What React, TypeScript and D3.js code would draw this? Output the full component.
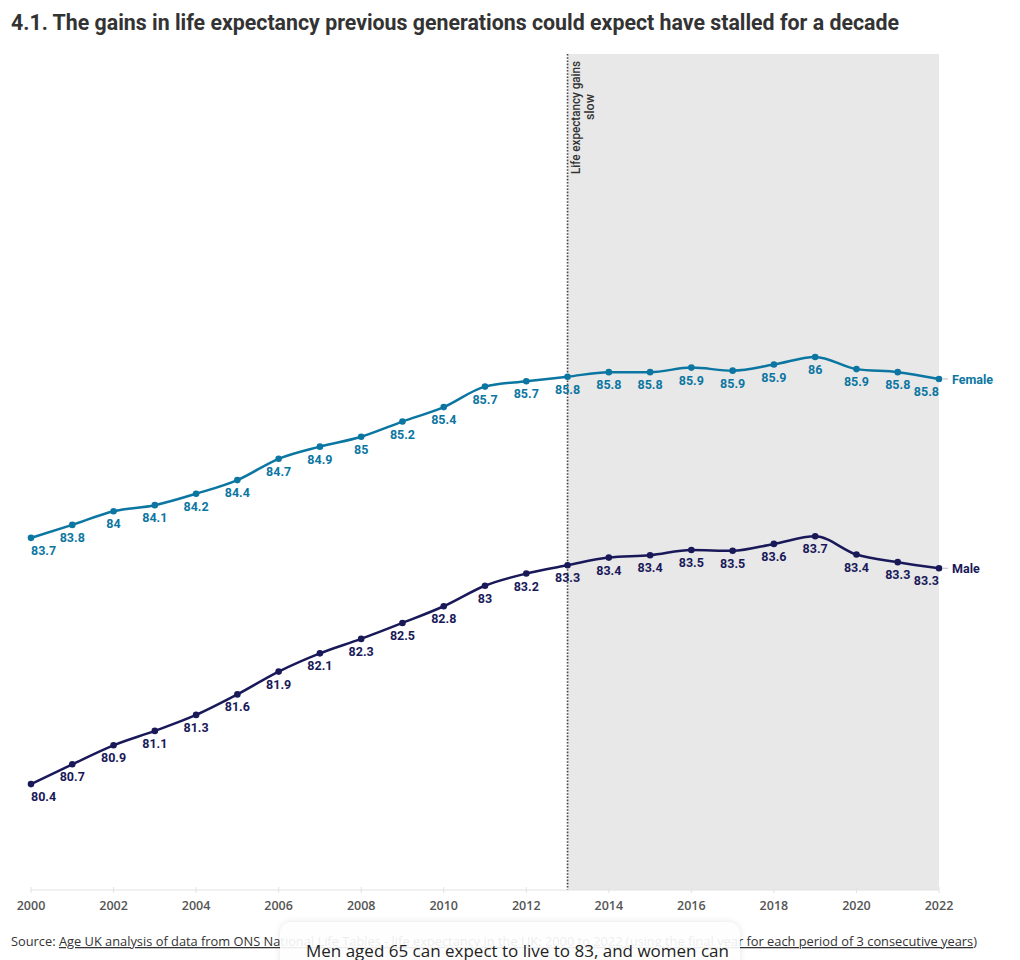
import React, { useEffect } from "react";
import * as d3 from "d3";

const years = [2000, 2001, 2002, 2003, 2004, 2005, 2006, 2007, 2008, 2009, 2010, 2011, 2012, 2013, 2014, 2015, 2016, 2017, 2018, 2019, 2020, 2021, 2022];
const female = [83.66, 83.83, 84.01, 84.09, 84.24, 84.42, 84.7, 84.86, 84.99, 85.19, 85.38, 85.65, 85.72, 85.78, 85.84, 85.84, 85.9, 85.86, 85.94, 86.04, 85.88, 85.84, 85.75];
const male = [80.42, 80.68, 80.93, 81.12, 81.33, 81.6, 81.9, 82.14, 82.33, 82.54, 82.76, 83.03, 83.19, 83.3, 83.4, 83.43, 83.5, 83.49, 83.58, 83.68, 83.44, 83.34, 83.26];
const seriesNames = ["Female", "Male"];
const tickYears = [2000, 2002, 2004, 2006, 2008, 2010, 2012, 2014, 2016, 2018, 2020, 2022];
const slowdownStart = 2013;
const yDomain = [79, 90];

const title = "4.1. The gains in life expectancy previous generations could expect have stalled for a decade";
const annotation = ["Life expectancy gains", "slow"];
const sourceLabel = "Source: ";
const sourceLink = "Age UK analysis of data from ONS National Life Tables - life expectancy in the UK: 2000 to 2022 (using the final year for each period of 3 consecutive years";
const cardText = "Men aged 65 can expect to live to 83, and women can";

const COLORS = ["#0b76a1", "#19195a"];
const W = 1020, H = 960;
const plotTop = 54, plotBottom = 890, plotLeft = 31, plotRight = 939;

export default function App() {
  useEffect(() => {
    document.body.style.margin = "0";
  }, []);

  const x = d3.scaleLinear().domain([years[0], years[years.length - 1]]).range([plotLeft, plotRight]);
  const y = d3.scaleLinear().domain(yDomain).range([892, 56]);
  const line = d3.line<number>().x((_, i) => x(years[i])).y((d) => y(d)).curve(d3.curveMonotoneX);
  const fmt = d3.format(".1~f");
  const data = [female, male];

  const labelFont = "Roboto, 'Open Sans', sans-serif";
  const condFont = "'DejaVu Sans Condensed', Roboto, sans-serif";

  return (
    <svg width={W} height={H} style={{ display: "block", fontFamily: "Roboto, sans-serif" }}>
      <defs>
        <filter id="shadow" x="-10%" y="-50%" width="120%" height="200%">
          <feDropShadow dx="0" dy="0" stdDeviation="3" floodColor="#000" floodOpacity="0.12" />
        </filter>
      </defs>
      <rect width={W} height={H} fill="#fff" />
      <text x={11} y={30} fontSize={22} fontWeight={700} fill="#333" fontFamily={labelFont} textLength={888} lengthAdjust="spacingAndGlyphs">{title}</text>

      {/* shaded slowdown */}
      <rect x={x(slowdownStart)} y={plotTop} width={x(years[years.length - 1]) - x(slowdownStart)} height={plotBottom - plotTop} fill="#e8e8e8" />
      <line x1={x(slowdownStart)} x2={x(slowdownStart)} y1={plotTop} y2={plotBottom} stroke="#444" strokeWidth={1.6} strokeDasharray="1.6,1.6" />
      <g transform={`translate(${x(slowdownStart)},61) rotate(-90)`} fontFamily={labelFont} fontSize={12.5} fontWeight={500} fill="#333">
        <text x={0} y={12.5} textAnchor="end" textLength={113} lengthAdjust="spacingAndGlyphs">{annotation[0]}</text>
        <text x={-33} y={26.5} textAnchor="end">{annotation[1]}</text>
      </g>

      {/* x axis */}
      <line x1={plotLeft} x2={plotRight} y1={plotBottom} y2={plotBottom} stroke="#e2e2e2" strokeWidth={1} />
      {tickYears.map((t) => (
        <g key={t}>
          <line x1={x(t)} x2={x(t)} y1={plotBottom - 3} y2={plotBottom + 3} stroke="#e2e2e2" />
          <text x={x(t)} y={910} textAnchor="middle" fontSize={12.5} fontWeight={600} fill="#555" fontFamily="'Open Sans', sans-serif">{t}</text>
        </g>
      ))}

      {data.map((vals, si) => (
        <g key={si}>
          <path d={line(vals) || ""} fill="none" stroke={COLORS[si]} strokeWidth={2.5} />
          {vals.map((v, i) => (
            <circle key={i} cx={x(years[i])} cy={y(v)} r={3.3} fill={COLORS[si]} />
          ))}
          {vals.map((v, i) => (
            <text key={"l" + i} x={x(years[i])} y={y(v) + 17} textAnchor={i === 0 ? "start" : i === vals.length - 1 ? "end" : "middle"} fontSize={12.5} fontWeight={700} fill={COLORS[si]} fontFamily={labelFont}>{fmt(v)}</text>
          ))}
          <line x1={x(years[years.length - 1]) + 4} x2={x(years[years.length - 1]) + 9} y1={y(vals[vals.length - 1])} y2={y(vals[vals.length - 1])} stroke="#bbb" strokeWidth={1} />
          <text x={x(years[years.length - 1]) + 13} y={y(vals[vals.length - 1]) + 4.5} fontSize={12.5} fontWeight={700} fill={COLORS[si]} fontFamily={labelFont}>{seriesNames[si]}</text>
        </g>
      ))}

      {/* source */}
      <text x={11} y={946} fontSize={12.5} fill="#333" fontFamily="'Open Sans', sans-serif" textLength={966} lengthAdjust="spacingAndGlyphs">
        <tspan>{sourceLabel}</tspan>
        <tspan textDecoration="underline">{sourceLink}</tspan>
        <tspan>)</tspan>
      </text>

      {/* overlay card */}
      <rect x={280} y={922} width={460} height={60} rx={12} fill="#fff" fillOpacity={0.9} filter="url(#shadow)" />
      <text x={306} y={957} fontSize={17} fill="#222" fontFamily="'Open Sans', sans-serif">{cardText}</text>
    </svg>
  );
}
